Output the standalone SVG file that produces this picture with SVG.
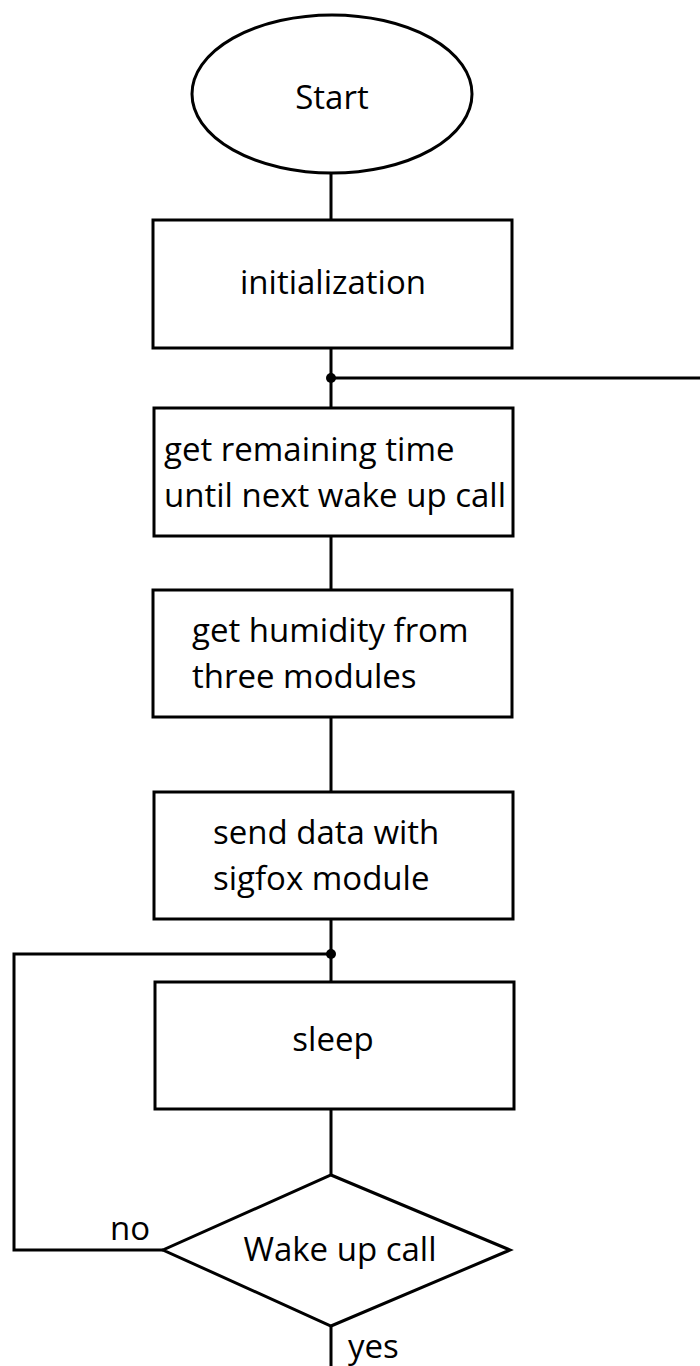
<svg xmlns="http://www.w3.org/2000/svg" width="700" height="1366" viewBox="0 0 700 1366">
<style>
.s{fill:#fff;stroke:#000;stroke-width:3}
.c{fill:none;stroke:#000;stroke-width:3}
text{font-family:"Open Sans","Noto Sans",sans-serif;font-size:33px;fill:#000}
.m{text-anchor:middle}
</style>
<rect width="700" height="1366" fill="#fff"/>
<g id="connectors">
<path class="c" d="M331 173V220M331 348V408M331 378H700M331 536V590M331 717V792M331 919V982M331 954H14V1250H163M331 1109V1175M331 1326V1366"/>
<circle cx="331" cy="378" r="5"/>
<circle cx="331" cy="954" r="5"/>
</g>
<g id="start"><ellipse class="s" cx="332" cy="94" rx="140" ry="79"/><text class="m" x="332" y="109">Start</text></g>
<g id="init"><rect class="s" x="153" y="220" width="359" height="128"/><text class="m" x="333" y="294">initialization</text></g>
<g id="remaining"><rect class="s" x="154" y="408" width="359" height="128"/><text x="164" y="461">get remaining time</text><text x="164" y="507">until next wake up call</text></g>
<g id="humidity"><rect class="s" x="153" y="590" width="359" height="127"/><text x="192" y="642">get humidity from</text><text x="192" y="688">three modules</text></g>
<g id="send"><rect class="s" x="154" y="792" width="359" height="127"/><text x="213" y="844">send data with</text><text x="213" y="890">sigfox module</text></g>
<g id="sleep"><rect class="s" x="155" y="982" width="359" height="127"/><text class="m" x="333" y="1051">sleep</text></g>
<g id="wake"><polygon class="s" points="331,1175 510,1250 331,1326 163,1250"/><text class="m" x="340" y="1261">Wake up call</text></g>
<text x="110" y="1240">no</text>
<text x="348" y="1358">yes</text>
</svg>
